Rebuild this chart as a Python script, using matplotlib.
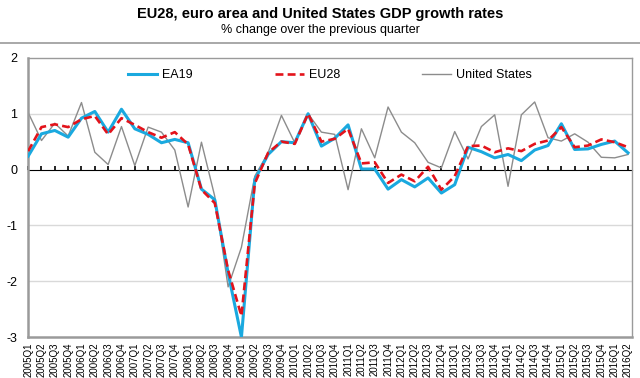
import matplotlib.pyplot as plt
import numpy as np

plt.rcParams['font.family'] = ['Liberation Sans', 'DejaVu Sans']

quarters = [f"{y}Q{q}" for y in range(2005, 2017) for q in range(1, 5)][:46]

ea19 = [0.24, 0.64, 0.70, 0.58, 0.92, 1.04, 0.67, 1.08, 0.73, 0.63, 0.48, 0.54,
        0.48, -0.35, -0.54, -1.85, -3.0, -0.18, 0.27, 0.50, 0.48, 1.0, 0.42, 0.56,
        0.80, 0.01, 0.01, -0.35, -0.18, -0.31, -0.15, -0.42, -0.27, 0.40, 0.32, 0.21,
        0.27, 0.16, 0.35, 0.43, 0.82, 0.36, 0.37, 0.45, 0.51, 0.30]
eu28 = [0.33, 0.76, 0.81, 0.76, 0.90, 0.96, 0.63, 0.92, 0.80, 0.67, 0.57, 0.67,
        0.45, -0.36, -0.60, -1.80, -2.62, -0.25, 0.30, 0.50, 0.46, 1.0, 0.50, 0.55,
        0.73, 0.11, 0.13, -0.24, -0.09, -0.21, 0.05, -0.36, -0.12, 0.42, 0.43, 0.31,
        0.38, 0.33, 0.46, 0.52, 0.76, 0.40, 0.43, 0.54, 0.49, 0.40]
us = [1.02, 0.52, 0.83, 0.60, 1.20, 0.31, 0.09, 0.77, 0.07, 0.76, 0.67, 0.35,
      -0.67, 0.49, -0.48, -2.10, -1.39, -0.12, 0.30, 0.97, 0.48, 1.0, 0.67, 0.63,
      -0.36, 0.73, 0.21, 1.12, 0.67, 0.48, 0.13, 0.03, 0.68, 0.19, 0.77, 0.98,
      -0.30, 0.98, 1.21, 0.57, 0.51, 0.64, 0.49, 0.22, 0.21, 0.27]

x = np.arange(len(quarters))

fig = plt.figure(figsize=(6.4, 3.78), dpi=100)
ax = fig.add_axes([0.044, 0.108, 0.9435, 0.739])

fig.text(0.5, 0.962, "EU28, euro area and United States GDP growth rates",
         ha='center', va='center', fontsize=10.5, fontweight='bold')
fig.text(0.5, 0.92, "% change over the previous quarter",
         ha='center', va='center', fontsize=9)
fig.add_artist(plt.Line2D([0, 1], [0.886, 0.886], color='#9a9a9a', lw=1.2))

for v in [1, -1, -2]:
    ax.axhline(v, color='#d9d9d9', lw=1, zorder=0)

ax.plot(x, us, color='#8c8c8c', lw=1, label='United States', zorder=2)
ax.plot(x, ea19, color='#1aa9df', lw=2.2, label='EA19', zorder=3)
ax.plot(x, eu28, color='#e3131b', lw=1.9, ls=(0, (3, 1.6)), label='EU28', zorder=4)

ax.set_xlim(0, 45.3)
ax.set_ylim(-3, 2)
ax.set_yticks([-3, -2, -1, 0, 1, 2])
ax.set_yticklabels(['-3', '-2', '-1', '0', '1', '2'], fontsize=9)
ax.tick_params(axis='y', length=0, pad=8)
ax.set_xticks(x)
ax.set_xticklabels(quarters, rotation=90, fontsize=7)
ax.tick_params(axis='x', length=0, pad=4)

for s in ax.spines.values():
    s.set_color('#9a9a9a')
ax.spines['left'].set_linewidth(1.8)
ax.spines['bottom'].set_linewidth(1.8)
ax.spines['top'].set_linewidth(1)
ax.spines['right'].set_linewidth(1)

# zero line with its own small ticks
zero = ax.secondary_xaxis(0.6)
zero.set_xticks(x)
zero.set_xticklabels([])
zero.tick_params(direction='out', length=3, width=1.2, color='black')
zero.spines['bottom'].set_color('black')
zero.spines['bottom'].set_linewidth(1.8)

handles, labels = ax.get_legend_handles_labels()
order = [1, 2, 0]
ax.legend([handles[i] for i in order], [labels[i] for i in order],
          loc='upper center', bbox_to_anchor=(0.5, 1.0), ncol=3, frameon=False,
          fontsize=9, columnspacing=6.6, handlelength=2.3, handletextpad=0.4)

fig.savefig('out.png', dpi=100)
